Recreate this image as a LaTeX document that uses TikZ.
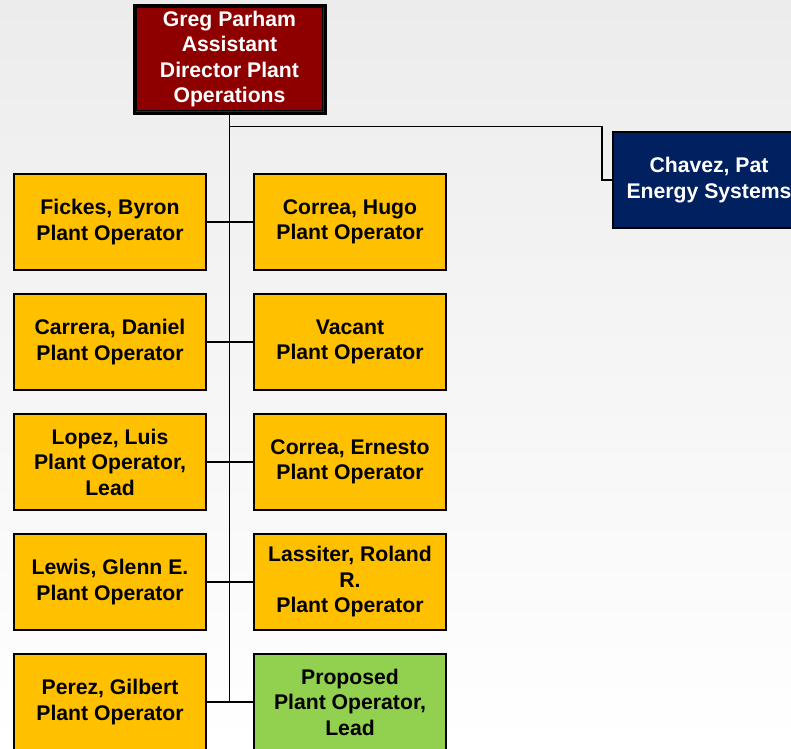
\documentclass[tikz,border=0pt]{standalone}
\usepackage{fontspec}
\setmainfont{Liberation Sans}
\usetikzlibrary{positioning}
\definecolor{opgold}{HTML}{FFC000}
\definecolor{bossred}{HTML}{8E0000}
\definecolor{energynavy}{HTML}{002060}
\definecolor{newgreen}{HTML}{92D050}
\definecolor{paper}{HTML}{ECECEC}

\begin{document}
\begin{tikzpicture}[x=1pt,y=-1pt,
    staff/.style={draw, line width=1.5pt, fill=opgold, minimum width=192pt, minimum height=96pt,
        inner sep=0pt, align=center, font=\fontsize{21.2}{25.5}\selectfont\bfseries},
    link/.style={line width=1.3pt}]
    \useasboundingbox (0,0) rectangle (791,748);
    \clip (0,0) rectangle (791,748);
    \shade[top color=paper, bottom color=white] (0,0) rectangle (791,748);
    % head of plant operations
    \node[staff, fill=bossred, text=white, line width=3pt, minimum width=191pt, minimum height=108pt] (parham) at (229.5,59)
        {Greg Parham\\Assistant\\Director Plant\\Operations};
    \draw[line width=1pt] ([shift={(4,4)}]parham.north west) rectangle ([shift={(-4,-4)}]parham.south east);
    \node[staff, fill=energynavy, text=white] (chavez) at (709,180) {Chavez, Pat\\Energy Systems};
    % operators
    \node[staff] (fickes) at (110,222) {Fickes, Byron\\Plant Operator};
    \node[staff] (correaH) at (350,222) {Correa, Hugo\\Plant Operator};
    \node[staff] (carrera) at (110,342) {Carrera, Daniel\\Plant Operator};
    \node[staff] (vacant) at (350,342) {Vacant\\Plant Operator};
    \node[staff] (lopez) at (110,462) {Lopez, Luis\\Plant Operator,\\Lead};
    \node[staff] (correaE) at (350,462) {Correa, Ernesto\\Plant Operator};
    \node[staff] (lewis) at (110,582) {Lewis, Glenn E.\\Plant Operator};
    \node[staff] (lassiter) at (350,582) {Lassiter, Roland\\R.\\Plant Operator};
    \node[staff] (perez) at (110,702) {Perez, Gilbert\\Plant Operator};
    \node[staff, fill=newgreen] (proposed) at (350,702) {Proposed\\Plant Operator,\\Lead};
    % connectors
    \coordinate (trunkend) at (parham.south |- perez.east);
    \draw[link] (parham.south) -- (trunkend);
    \draw[link] (parham.south) ++(0,12) -| (602,180) -- (chavez.west);
    \draw[link] (fickes.east) -- (correaH.west);
    \draw[link] (carrera.east) -- (vacant.west);
    \draw[link] (lopez.east) -- (correaE.west);
    \draw[link] (lewis.east) -- (lassiter.west);
    \draw[link] (perez.east) -- (proposed.west);
\end{tikzpicture}
\end{document}
